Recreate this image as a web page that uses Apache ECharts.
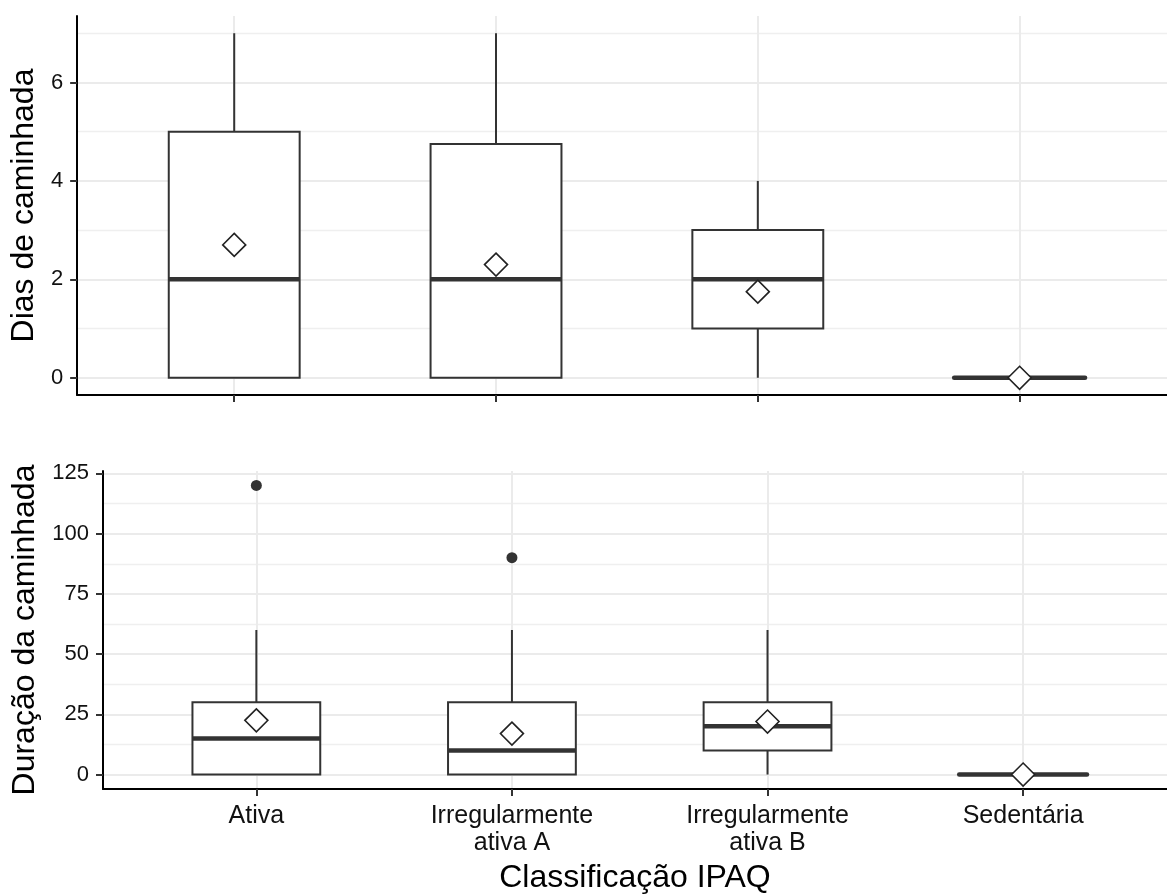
<!DOCTYPE html>
<html>
<head>
<meta charset="utf-8">
<script src="https://cdn.jsdelivr.net/npm/echarts@6/dist/echarts.min.js"></script>
<style>
  html, body { margin: 0; padding: 0; background: #fff; }
  #chart { width: 1167px; height: 895px; }
</style>
</head>
<body>
<div id="chart"></div>
<script>
// IPAQ classification groups (x positions 1..4)
const categories = ['Ativa', 'Irregularmente\nativa A', 'Irregularmente\nativa B', 'Sedentária'];
const categoryPos = [1, 2, 3, 4];

// Walking days per week: five-number summary and mean per group
const diasMin    = [0, 0, 0, 0];
const diasQ1     = [0, 0, 1, 0];
const diasMedian = [2, 2, 2, 0];
const diasQ3     = [5, 4.75, 3, 0];
const diasMax    = [7, 7, 4, 0];
const diasMean   = [2.7, 2.3, 1.75, 0];

// Walking duration (minutes): five-number summary, mean and outliers
const duracaoMin    = [0, 0, 0, 0];
const duracaoQ1     = [0, 0, 10, 0];
const duracaoMedian = [15, 10, 20, 0];
const duracaoQ3     = [30, 30, 30, 0];
const duracaoMax    = [60, 60, 60, 0];
const duracaoMean   = [22.5, 17, 22, 0];
const outlierGroup  = [1, 2];
const outlierValue  = [120, 90];

// Axis ticks
const diasTicks       = [0, 2, 4, 6];
const diasMinorTicks  = [1, 3, 5, 7];
const duracaoTicks    = [0, 25, 50, 75, 100, 125];
const duracaoMinor    = [12.5, 37.5, 62.5, 87.5, 112.5];

const FONT = '"Liberation Sans", Arial, sans-serif';
const INK = '#333333';
const GRID_COLOR = '#ebebeb';
// visible x range: the panel runs off the right edge of the page
const X_MIN = 0.4;
const X_MAX = 4.563;

function boxRows(mn, q1, md, q3, mx) {
  return categoryPos.map((x, i) => [x, mn[i], q1[i], md[i], q3[i], mx[i]]);
}

// Box + whiskers (no caps) + thick median, placed via the axis scales
function renderBox(params, api) {
  const x = api.value(0);
  const lo = api.coord([x, api.value(1)]);
  const q1 = api.coord([x, api.value(2)]);
  const md = api.coord([x, api.value(3)]);
  const q3 = api.coord([x, api.value(4)]);
  const hi = api.coord([x, api.value(5)]);
  const half = api.size([0.5, 0])[0] / 2;
  const cx = md[0];
  const thin = { stroke: INK, lineWidth: 2 };
  const flat = q1[1] - q3[1] < 0.5;
  return {
    type: 'group',
    children: [
      { type: 'line', shape: { x1: cx, y1: hi[1], x2: cx, y2: q3[1] }, style: thin },
      { type: 'line', shape: { x1: cx, y1: q1[1], x2: cx, y2: lo[1] }, style: thin },
      { type: 'rect', shape: { x: cx - half, y: q3[1], width: 2 * half, height: q1[1] - q3[1] },
        style: { fill: '#ffffff', stroke: flat ? null : INK, lineWidth: 2 } },
      { type: 'line', shape: { x1: cx - half, y1: md[1], x2: cx + half, y2: md[1] },
        style: { stroke: INK, lineWidth: 4.5, lineCap: flat ? 'round' : 'butt' } }
    ]
  };
}

function xAxisFor(gridIndex, withLabels) {
  return {
    type: 'value', gridIndex: gridIndex, min: X_MIN, max: X_MAX,
    axisLine: { show: true, onZero: false, lineStyle: { color: '#000', width: 2 } },
    axisTick: { show: true, length: 7, customValues: categoryPos, lineStyle: { color: INK, width: 2 } },
    axisLabel: {
      show: withLabels, customValues: categoryPos, margin: 14,
      fontFamily: FONT, fontSize: 25, color: '#111', lineHeight: 27, align: 'center',
      formatter: v => categories[Math.round(v) - 1] || ''
    },
    splitLine: { show: true, lineStyle: { color: GRID_COLOR, width: 2 } },
    name: withLabels ? 'Classificação IPAQ' : '',
    nameLocation: 'middle', nameGap: 73,
    nameTextStyle: { fontFamily: FONT, fontSize: 32, color: '#000' }
  };
}

function yAxisFor(gridIndex, min, max, ticks, title, gap) {
  return {
    type: 'value', gridIndex: gridIndex, min: min, max: max, position: 'left',
    axisLine: { show: true, onZero: false, lineStyle: { color: '#000', width: 2 } },
    axisTick: { show: true, length: 7, customValues: ticks, lineStyle: { color: INK, width: 2 } },
    axisLabel: { customValues: ticks, margin: 14, fontFamily: FONT, fontSize: 22, color: '#111' },
    splitLine: { show: true, lineStyle: { color: GRID_COLOR, width: 2 } },
    name: title, nameLocation: 'middle', nameGap: gap,
    nameTextStyle: { fontFamily: FONT, fontSize: 32, color: '#000' }
  };
}

function minorAxisFor(gridIndex, min, max, ticks) {
  return {
    type: 'value', gridIndex: gridIndex, min: min, max: max, position: 'left',
    axisLine: { show: false }, axisLabel: { show: false },
    axisTick: { show: false, customValues: ticks },
    splitLine: { show: true, lineStyle: { color: '#efefef', width: 1.3 } }
  };
}

const chart = echarts.init(document.getElementById('chart'), null, { renderer: 'canvas' });

chart.setOption({
  animation: false,
  backgroundColor: '#ffffff',
  grid: [
    { left: 76, top: 16, right: 0, height: 379 },
    { left: 103, top: 471, right: 0, height: 321 }
  ],
  xAxis: [xAxisFor(0, false), xAxisFor(1, true)],
  yAxis: [
    minorAxisFor(0, -0.35, 7.35, diasMinorTicks),
    yAxisFor(0, -0.35, 7.35, diasTicks, 'Dias de caminhada', 35),
    minorAxisFor(1, -6, 126, duracaoMinor),
    yAxisFor(1, -6, 126, duracaoTicks, 'Duração da caminhada', 62)
  ],
  series: [
    {
      type: 'custom', name: 'Dias', xAxisIndex: 0, yAxisIndex: 1, z: 2,
      renderItem: renderBox, encode: { x: 0, y: [1, 2, 3, 4, 5] },
      data: boxRows(diasMin, diasQ1, diasMedian, diasQ3, diasMax)
    },
    {
      type: 'scatter', name: 'Média dias', xAxisIndex: 0, yAxisIndex: 1, z: 4,
      symbol: 'diamond', symbolSize: 23,
      itemStyle: { color: '#ffffff', borderColor: '#222', borderWidth: 1.6, opacity: 1 },
      data: categoryPos.map((x, i) => [x, diasMean[i]])
    },
    {
      type: 'custom', name: 'Duração', xAxisIndex: 1, yAxisIndex: 3, z: 2,
      renderItem: renderBox, encode: { x: 0, y: [1, 2, 3, 4, 5] },
      data: boxRows(duracaoMin, duracaoQ1, duracaoMedian, duracaoQ3, duracaoMax)
    },
    {
      type: 'scatter', name: 'Outliers', xAxisIndex: 1, yAxisIndex: 3, z: 3,
      symbol: 'circle', symbolSize: 11,
      itemStyle: { color: INK, opacity: 1 },
      data: outlierGroup.map((x, i) => [x, outlierValue[i]])
    },
    {
      type: 'scatter', name: 'Média duração', xAxisIndex: 1, yAxisIndex: 3, z: 4,
      symbol: 'diamond', symbolSize: 23,
      itemStyle: { color: '#ffffff', borderColor: '#222', borderWidth: 1.6, opacity: 1 },
      data: categoryPos.map((x, i) => [x, duracaoMean[i]])
    }
  ]
});
</script>
</body>
</html>
